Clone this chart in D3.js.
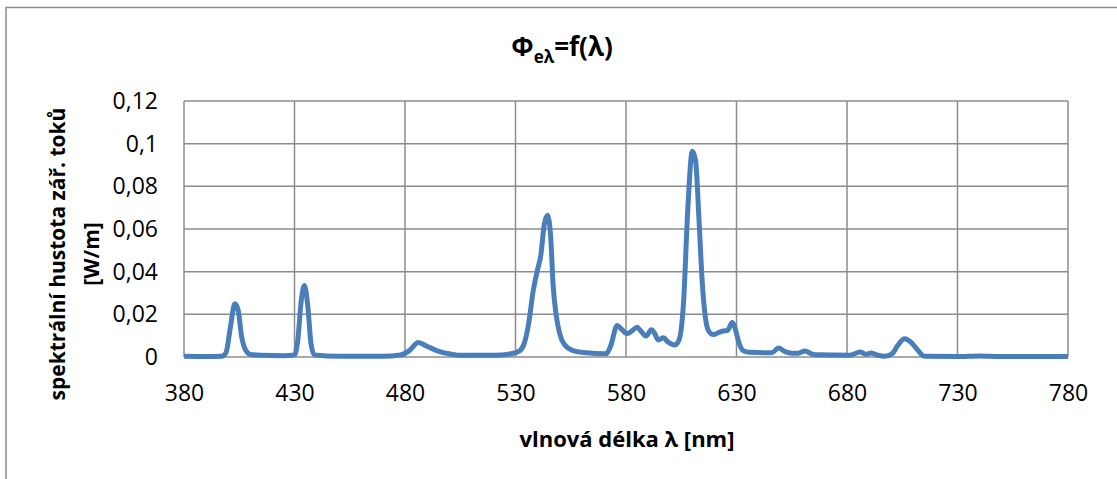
<html>
<head>
<meta charset="utf-8">
<style>
body { margin: 0; background: #fff; }
text { font-family: "Open Sans", sans-serif; fill: #000; }
</style>
</head>
<body>
<div id="chart"></div>
<script src="https://d3js.org/d3.v7.min.js"></script>
<script>
// wavelength [nm] and spectral flux density [W/m]
var wavelength = [380, 390, 397, 399, 401, 403, 404.5, 406, 408, 410, 415, 425,
  430, 431.5, 433, 434.5, 436, 437.5, 439, 450, 470, 478, 482, 486, 490, 495, 500, 505,
  520, 528, 532, 534, 536, 538, 540, 541.5, 543, 544.5, 546, 547, 548.5, 550, 552, 556, 562,
  571, 573, 576, 578, 580.5, 583, 585, 587, 589, 591.5, 593, 594.5, 597, 599, 602, 604, 606,
  608, 610, 611.5, 613, 614.5, 616, 617.5, 619.5, 622, 624, 626, 628, 629.5, 631, 633, 636,
  646, 649, 652, 655, 658, 661, 664, 667, 681, 686, 688.5, 691, 694, 697, 700.5, 703, 706,
  709, 711, 713, 715, 730, 740, 750, 780];
var flux = [0.0003, 0.0002, 0.0003, 0.002, 0.014, 0.025, 0.022, 0.010, 0.003, 0.0012, 0.0008, 0.0006,
  0.001, 0.008, 0.026, 0.0335, 0.024, 0.006, 0.001, 0.0003, 0.0003, 0.001, 0.003, 0.0068, 0.005, 0.0028, 0.0015, 0.0008,
  0.0008, 0.0015, 0.003, 0.0065, 0.016, 0.031, 0.041, 0.048, 0.062, 0.0665, 0.055, 0.034, 0.019, 0.011, 0.006, 0.003, 0.002,
  0.0015, 0.005, 0.0148, 0.013, 0.011, 0.0125, 0.014, 0.0118, 0.0098, 0.0128, 0.011, 0.008, 0.009, 0.007, 0.0056, 0.008, 0.025,
  0.07, 0.0965, 0.092, 0.065, 0.035, 0.018, 0.012, 0.0105, 0.0115, 0.0122, 0.0125, 0.0162, 0.013, 0.007, 0.003, 0.0022,
  0.002, 0.0042, 0.0025, 0.0018, 0.0018, 0.0028, 0.0015, 0.001, 0.0008, 0.0023, 0.0013, 0.0019, 0.0008, 0.0003, 0.0016, 0.0055, 0.0085,
  0.0068, 0.0045, 0.002, 0.0003, 0.0002, 0.0005, 0.0002, 0.0002];

var xTicks = [380, 430, 480, 530, 580, 630, 680, 730, 780];
var yTicks = [0, 0.02, 0.04, 0.06, 0.08, 0.1, 0.12];

var chartTitle = "Φ";
var chartTitleSub = "eλ";
var chartTitleRest = "=f(λ)";
var xTitle = "vlnová délka λ [nm]";
var yTitle = ["spektrální hustota zář. toků", "[W/m]"];

var W = 1117, H = 479;
var plot = {left: 184, right: 1068, top: 101, bottom: 357};

var svg = d3.select("#chart").append("svg")
  .attr("width", W)
  .attr("height", H);

// outer chart border (runs off the right and bottom edge)
svg.append("rect")
  .attr("x", 6).attr("y", 7.5)
  .attr("width", 1300).attr("height", 700)
  .attr("fill", "none")
  .attr("stroke", "#8a8a8a")
  .attr("stroke-width", 1.5);

var x = d3.scaleLinear().domain([380, 780]).range([plot.left, plot.right]);
var y = d3.scaleLinear().domain([0, 0.12]).range([plot.bottom, plot.top]);

var comma = d3.formatLocale({decimal: ",", thousands: " ", grouping: [3], currency: ["", ""]});
var fmt = comma.format(".2~f");

// gridlines
svg.append("g")
  .selectAll("line.hg")
  .data(yTicks)
  .enter().append("line")
  .attr("x1", plot.left).attr("x2", plot.right)
  .attr("y1", d => y(d)).attr("y2", d => y(d))
  .attr("stroke", "#8c8c8c").attr("stroke-width", 1.5);

svg.append("g")
  .selectAll("line.vg")
  .data(xTicks)
  .enter().append("line")
  .attr("x1", d => x(d)).attr("x2", d => x(d))
  .attr("y1", plot.top).attr("y2", plot.bottom)
  .attr("stroke", "#8c8c8c").attr("stroke-width", 1.5);

// axes (labels only, lines are the gridlines)
var xAxis = svg.append("g")
  .attr("transform", "translate(0," + plot.bottom + ")")
  .call(d3.axisBottom(x).tickValues(xTicks).tickSize(0).tickPadding(28).tickFormat(d3.format("d")));
var yAxis = svg.append("g")
  .attr("transform", "translate(" + plot.left + ",0)")
  .call(d3.axisLeft(y).tickValues(yTicks).tickSize(0).tickPadding(26).tickFormat(fmt));

[xAxis, yAxis].forEach(function(a) {
  a.select(".domain").remove();
  a.selectAll("text")
    .style("font-family", "'Open Sans', sans-serif")
    .style("font-size", "23px")
    .attr("fill", "#000");
});

// data line
var line = d3.line()
  .x(d => x(d[0]))
  .y(d => y(d[1]))
  .curve(d3.curveMonotoneX);

svg.append("path")
  .datum(d3.zip(wavelength, flux))
  .attr("d", line)
  .attr("fill", "none")
  .attr("stroke", "#4a7ebb")
  .attr("stroke-width", 5)
  .attr("stroke-linejoin", "round");

// title
var t = svg.append("text")
  .attr("x", 562).attr("y", 56)
  .attr("text-anchor", "middle")
  .style("font-size", "26px")
  .style("font-weight", "bold");
t.append("tspan").text(chartTitle);
t.append("tspan").attr("dy", 7).style("font-size", "17px").text(chartTitleSub);
t.append("tspan").attr("dy", -7).text(chartTitleRest);

// x axis title
svg.append("text")
  .attr("x", 627).attr("y", 447)
  .attr("text-anchor", "middle")
  .style("font-size", "22px")
  .style("font-weight", "bold")
  .text(xTitle);

// y axis title, two lines
svg.append("g")
  .attr("transform", "translate(0,254) rotate(-90)")
  .selectAll("text")
  .data(yTitle)
  .enter().append("text")
  .attr("x", 0)
  .attr("y", (d, i) => 65 + i * 34)
  .attr("text-anchor", "middle")
  .style("font-size", "21px")
  .style("font-weight", "bold")
  .text(d => d);
</script>
</body>
</html>
